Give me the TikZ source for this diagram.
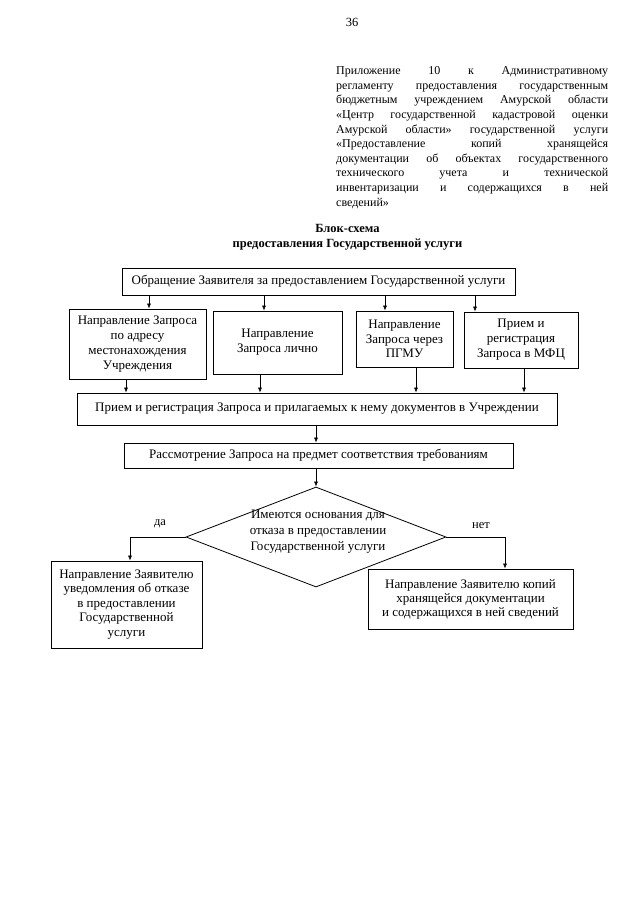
\documentclass[tikz,border=0pt]{standalone}
\usepackage{fontspec}
\setmainfont{Liberation Serif}
\usetikzlibrary{arrows.meta,shapes.geometric}
\begin{document}
\begin{tikzpicture}[x=1pt,y=-1pt,
  box/.style={draw, line width=0.8pt, inner sep=2pt, align=center, font=\fontsize{13}{14.8}\selectfont},
  arr/.style={line width=0.6pt, -{Latex[length=5pt,width=4pt]}},
  lbl/.style={font=\fontsize{12.5}{14.5}\selectfont, inner sep=0pt}]
\useasboundingbox[fill=white] (0,0) rectangle (640,905);

% page number
\node[lbl] (pg) at (352,22) {36};

% appendix text
\node[anchor=north west, inner sep=0pt, align=left, font=\fontsize{12}{14.6}\selectfont] (app) at (336,66.5) {%
\makebox[272pt][s]{Приложение 10 к Административному}\\
\makebox[272pt][s]{регламенту предоставления государственным}\\
\makebox[272pt][s]{бюджетным учреждением Амурской области}\\
\makebox[272pt][s]{«Центр государственной кадастровой оценки}\\
\makebox[272pt][s]{Амурской области» государственной услуги}\\
\makebox[272pt][s]{«Предоставление копий хранящейся}\\
\makebox[272pt][s]{документации об объектах государственного}\\
\makebox[272pt][s]{технического учета и технической}\\
\makebox[272pt][s]{инвентаризации и содержащихся в ней}\\
сведений»};

% title
\node[align=center, inner sep=0pt, font=\bfseries\fontsize{12.5}{15.3}\selectfont] (title) at (347.5,237) {Блок-схема\\предоставления Государственной услуги};

% boxes
\node[box, minimum width=393, minimum height=27] (top) at (318.5,281.5) {Обращение Заявителя за предоставлением Государственной услуги};
\node[box, font=\fontsize{13}{15}\selectfont, minimum width=137, minimum height=70] (b1) at (137.5,344) {Направление Запроса\\по адресу\\местонахождения\\Учреждения};
\node[box, font=\fontsize{13}{15}\selectfont, minimum width=129, minimum height=63] (b2) at (277.5,342.5) {Направление\\Запроса лично};
\node[box, minimum width=97, minimum height=56] (b3) at (404.5,339) {Направление\\Запроса через\\ПГМУ};
\node[box, font=\fontsize{13}{15}\selectfont, minimum width=114, minimum height=56] (b4) at (521,340) {Прием и\\регистрация\\Запроса в МФЦ};
\node[box, minimum width=480, minimum height=32] (big) at (317,409) {Прием и регистрация Запроса и прилагаемых к нему документов в Учреждении};
\node[box, minimum width=389, minimum height=25] (b5) at (318.5,455.5) {Рассмотрение Запроса на предмет соответствия требованиям};
\node[diamond, draw, line width=0.8pt, inner sep=0pt, minimum width=260, minimum height=100] (dec) at (316,537) {};
\node[align=center, inner sep=0pt, font=\fontsize{13}{16}\selectfont] (dectext) at (318,532) {Имеются основания для\\отказа в предоставлении\\Государственной услуги};
\node[box, font=\fontsize{13}{14.5}\selectfont, minimum width=151, minimum height=87] (b6) at (126.5,604.5) {Направление Заявителю\\уведомления об отказе\\в предоставлении\\Государственной\\услуги};
\node[box, font=\fontsize{13}{14}\selectfont, minimum width=205, minimum height=60] (b7) at (470.5,599) {Направление Заявителю копий\\хранящейся документации\\и содержащихся в ней сведений};

% labels
\node[lbl] (yes) at (160,524) {да};
\node[lbl] (no) at (481,526) {нет};

% x positions of connectors
\coordinate (x1) at (149,0);
\coordinate (x2) at (264,0);
\coordinate (x3) at (385,0);
\coordinate (x4) at (475,0);
\coordinate (y1) at (126,0);
\coordinate (y2) at (260,0);
\coordinate (y3) at (416,0);
\coordinate (y4) at (524,0);
\coordinate (xl) at (130,0);
\coordinate (xr) at (505,0);

\draw[arr] (top.south -| x1) -- (b1.north -| x1);
\draw[arr] (top.south -| x2) -- (b2.north -| x2);
\draw[arr] (top.south -| x3) -- (b3.north -| x3);
\draw[arr] (top.south -| x4) -- (b4.north -| x4);
\draw[arr] (b1.south -| y1) -- (big.north -| y1);
\draw[arr] (b2.south -| y2) -- (big.north -| y2);
\draw[arr] (b3.south -| y3) -- (big.north -| y3);
\draw[arr] (b4.south -| y4) -- (big.north -| y4);
\draw[arr] (big.south -| dec.north) -- (b5.north -| dec.north);
\draw[arr] (b5.south -| dec.north) -- (dec.north);
\draw[arr] (dec.west) -- (dec.west -| xl) -- (b6.north -| xl);
\draw[arr] (dec.east) -- (dec.east -| xr) -- (b7.north -| xr);
\end{tikzpicture}
\end{document}
